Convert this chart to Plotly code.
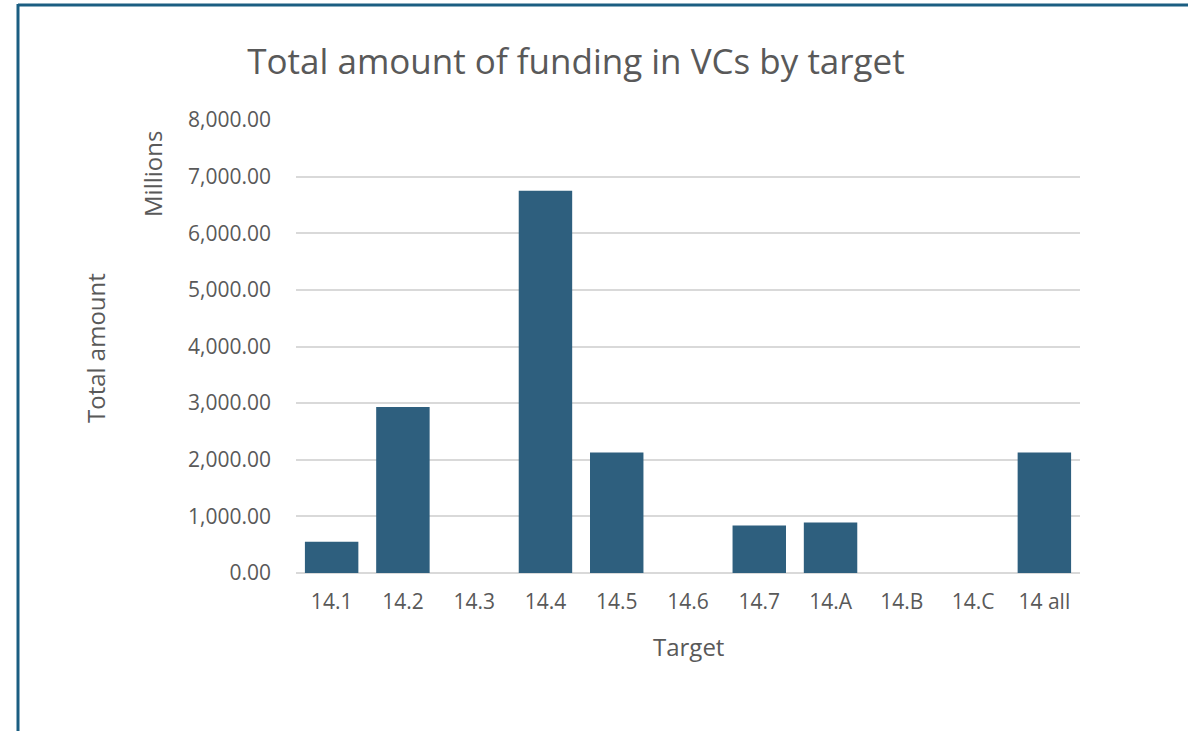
import plotly.graph_objects as go

categories = ["14.1", "14.2", "14.3", "14.4", "14.5", "14.6", "14.7", "14.A", "14.B", "14.C", "14 all"]
values = [550, 2930, 0, 6750, 2130, 0, 840, 890, 0, 0, 2130]
y_ticks = [0, 1000, 2000, 3000, 4000, 5000, 6000, 7000, 8000]

font_family = "Open Sans, Lato, sans-serif"
text_color = "#595959"
bar_color = "#2E5F7E"
border_color = "#1B5E82"

fig = go.Figure(go.Bar(x=categories, y=values, marker=dict(color=bar_color, line=dict(width=0))))

W, H = 1188, 731
L, R, T, B = 296, 108, 120, 158
pw, ph = W - L - R, H - T - B

def px(x):
    return (x - L) / pw

def py(y):
    return (H - B - y) / ph

fig.update_layout(
    width=W, height=H,
    margin=dict(l=L, r=R, t=T, b=B, autoexpand=False),
    paper_bgcolor="white", plot_bgcolor="white",
    bargap=0.25,
    showlegend=False,
    font=dict(family=font_family, color=text_color, size=21),
    title=dict(text="Total amount of funding in VCs by target", xref="container", x=576 / W,
               xanchor="center", yref="container", y=1 - 62 / H, yanchor="middle",
               font=dict(size=35, color=text_color)),
    xaxis=dict(showgrid=False, showline=False, ticks="", tickfont=dict(size=21),
               ticklabelstandoff=14),
    yaxis=dict(range=[0, 8000], tickvals=y_ticks, tickformat=",.2f", showgrid=True,
               gridcolor="#D9D9D9", gridwidth=1.5, zeroline=True, zerolinecolor="#D9D9D9",
               zerolinewidth=1.5, showline=False, ticks="", ticklabelstandoff=24,
               tickfont=dict(size=21)),
    annotations=[
        dict(text="Total amount", x=px(95), y=py(348), xref="paper", yref="paper", textangle=-90,
             showarrow=False, font=dict(size=24, color=text_color), xanchor="center", yanchor="middle"),
        dict(text="Millions", x=px(152), y=py(174), xref="paper", yref="paper", textangle=-90,
             showarrow=False, font=dict(size=24, color=text_color), xanchor="center", yanchor="middle"),
        dict(text="Target", x=px(688), y=py(646), xref="paper", yref="paper",
             showarrow=False, font=dict(size=24, color=text_color), xanchor="center", yanchor="middle"),
    ],
    shapes=[
        dict(type="line", xref="paper", yref="paper", x0=px(18), x1=px(1190), y0=py(5), y1=py(5),
             line=dict(color=border_color, width=3)),
        dict(type="line", xref="paper", yref="paper", x0=px(18), x1=px(18), y0=py(4), y1=py(735),
             line=dict(color=border_color, width=3)),
    ],
)

fig.write_html("out.html", config={"displayModeBar": False},
               post_script="document.body.style.margin='0';document.body.style.overflow='hidden';")
